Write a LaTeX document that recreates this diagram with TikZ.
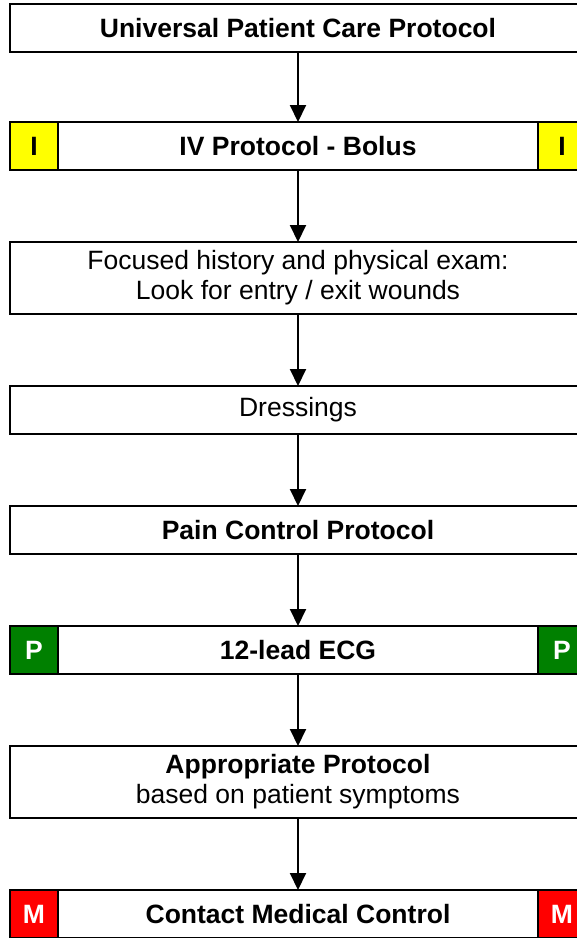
\documentclass[tikz,border=0pt]{standalone}
\usepackage{fontspec}
\setmainfont{Liberation Sans}
\usetikzlibrary{arrows.meta,positioning}
\definecolor{ivyellow}{RGB}{255,255,0}
\definecolor{pgreen}{RGB}{0,128,0}
\definecolor{mred}{RGB}{255,0,0}
\tikzset{
    proc/.style={
        rectangle,
        draw=black,
        line width=2pt,
        fill=white,
        minimum width=576pt,
        minimum height=48pt,
        outer sep=0pt,
        align=center,
        font=\fontsize{26.5pt}{30pt}\selectfont,
    },
    tall/.style={
        proc,
        minimum height=72pt,
    },
    badge/.style={
        rectangle,
        draw=black,
        line width=2pt,
        minimum width=48pt,
        minimum height=48pt,
        outer sep=0pt,
        font=\fontsize{26.5pt}{30pt}\selectfont\bfseries,
    },
    flow/.style={
        draw,
        line width=2pt,
        -{Triangle[width=16pt,length=17pt]},
    },
    node distance=72pt,
}
\begin{document}
\begin{tikzpicture}[x=1pt,y=-1pt]
    \useasboundingbox (0,0) rectangle (577,938);

    \node [proc] (upc) at (298,28) {\bfseries Universal Patient Care Protocol};
    \node [proc, below=70pt of upc] (iv) {\bfseries IV Protocol - Bolus};
    \node [tall, below=of iv] (exam) {Focused history and physical exam:\\Look for entry / exit wounds};
    \node [proc, below=of exam] (dress) {Dressings};
    \node [proc, below=of dress] (pain) {\bfseries Pain Control Protocol};
    \node [proc, below=of pain] (ecg) {\bfseries 12-lead ECG};
    \node [tall, below=of ecg] (approp) {\textbf{Appropriate Protocol}\\based on patient symptoms};
    \node [proc, below=of approp] (mc) {\bfseries Contact Medical Control};

    % level badges
    \node [badge, fill=ivyellow, anchor=west] (ivL) at (iv.west) {I};
    \node [badge, fill=ivyellow, anchor=east] (ivR) at (iv.east) {I};
    \node [badge, fill=pgreen, text=white, anchor=west] (ecgL) at (ecg.west) {P};
    \node [badge, fill=pgreen, text=white, anchor=east] (ecgR) at (ecg.east) {P};
    \node [badge, fill=mred, text=white, anchor=west] (mcL) at (mc.west) {M};
    \node [badge, fill=mred, text=white, anchor=east] (mcR) at (mc.east) {M};

    \draw [flow] (upc) -- (iv);
    \draw [flow] (iv) -- (exam);
    \draw [flow] (exam) -- (dress);
    \draw [flow] (dress) -- (pain);
    \draw [flow] (pain) -- (ecg);
    \draw [flow] (ecg) -- (approp);
    \draw [flow] (approp) -- (mc);
\end{tikzpicture}
\end{document}
